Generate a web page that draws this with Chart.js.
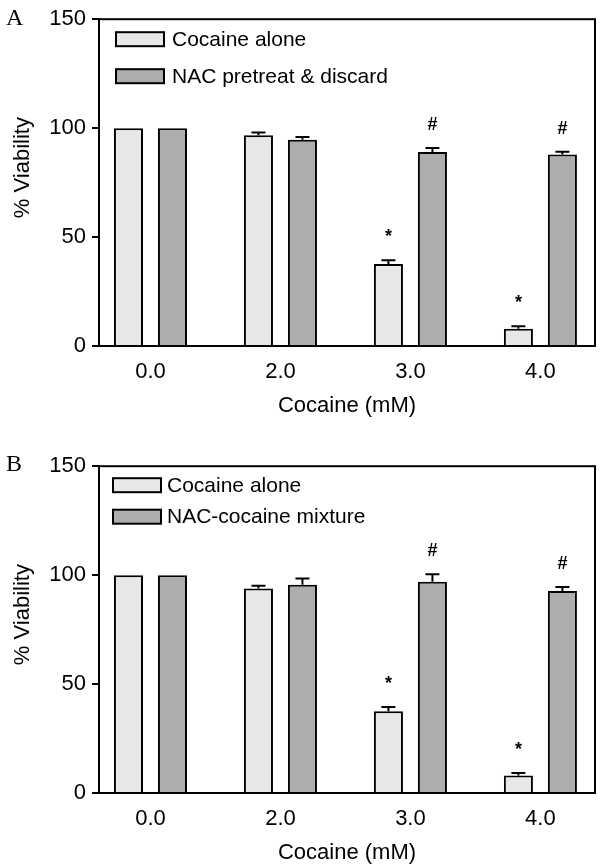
<!DOCTYPE html>
<html>
<head>
<meta charset="utf-8">
<title>Cocaine viability</title>
<script src="https://cdn.jsdelivr.net/npm/chart.js@4.4.1/dist/chart.umd.min.js"></script>
<style>
  html, body { margin: 0; padding: 0; background: #fff; overflow: hidden; }
  #wrap { position: relative; width: 602px; height: 868px; }
  canvas { position: absolute; left: 0; }
  .panel { position: absolute; left: 6px; font-family: "Liberation Serif", "Times New Roman", serif; font-size: 24px; line-height: 24px; color: #000; }
</style>
</head>
<body>
<div id="wrap">
  <canvas id="chartA" width="602" height="434" style="top:0"></canvas>
  <canvas id="chartB" width="602" height="421" style="top:447px"></canvas>
  <div class="panel" style="top:5px">A</div>
  <div class="panel" style="top:451px">B</div>
</div>
<script>
// 1. Data
const doses = ['0.0', '2.0', '3.0', '4.0'];

// panel A
const aloneA = [100, 96.7, 37.6, 7.9];
const aloneErrA = [0, 1.3, 1.8, 1.2];
const pretreatA = [100, 94.7, 89.1, 87.9];
const pretreatErrA = [0, 1.2, 1.8, 1.3];

// panel B
const aloneB = [100, 93.9, 37.5, 8.0];
const aloneErrB = [0, 1.2, 2.0, 1.2];
const mixtureB = [100, 95.6, 97.0, 92.7];
const mixtureErrB = [0, 2.9, 3.4, 1.8];

// significance marks
const aloneMarks = ['', '', '*', '*'];
const nacMarks = ['', '', '#', '#'];

const LIGHT = '#e7e7e7';
const DARK = '#adadad';
const FONT = '"Liberation Sans", Arial, sans-serif';

// 2. Plugin: frame, error bars, marks, legend and y title
const extras = {
    id: 'extras',
    afterDatasetsDraw(chart, args, opts) {
        const ctx = chart.ctx;
        const { left, top, right, bottom } = chart.chartArea;
        const yScale = chart.scales.y;
        ctx.save();
        ctx.strokeStyle = '#000';
        ctx.lineWidth = 2;

        chart.data.datasets.forEach((ds, di) => {
            const meta = chart.getDatasetMeta(di);
            meta.data.forEach((bar, i) => {
                const err = ds.errors[i];
                const yCap = yScale.getPixelForValue(ds.data[i].y + err);
                if (err > 0) {
                    ctx.beginPath();
                    ctx.moveTo(bar.x, bar.y);
                    ctx.lineTo(bar.x, yCap);
                    ctx.moveTo(bar.x - 7, yCap);
                    ctx.lineTo(bar.x + 7, yCap);
                    ctx.stroke();
                }
                if (ds.marks[i]) {
                    ctx.fillStyle = '#000';
                    ctx.font = 'bold 18px ' + FONT;
                    ctx.textAlign = 'center';
                    ctx.textBaseline = 'middle';
                    ctx.fillText(ds.marks[i], bar.x, yCap - 23);
                }
            });
        });

        // box round the plot
        ctx.strokeRect(left, top, right - left, bottom - top);

        // legend inside the plot
        const lg = opts.legend;
        chart.data.datasets.forEach((ds, di) => {
            const cy = top + lg.rows[di];
            const bx = left + lg.x;
            ctx.fillStyle = ds.backgroundColor;
            ctx.fillRect(bx, cy - 7, 48, 14);
            ctx.strokeRect(bx, cy - 7, 48, 14);
            ctx.fillStyle = '#000';
            ctx.font = '21px ' + FONT;
            ctx.textAlign = 'left';
            ctx.textBaseline = 'middle';
            ctx.fillText(ds.label, bx + 48 + lg.gap, cy + 1);
        });

        // y title, a little above the middle as in the figure
        ctx.translate(23, (top + bottom) / 2 - 15);
        ctx.rotate(-Math.PI / 2);
        ctx.font = '22px ' + FONT;
        ctx.textAlign = 'center';
        ctx.textBaseline = 'middle';
        ctx.fillText('% Viability', 0, 0);
        ctx.restore();
    }
};

function makePanel(id, series, axisHeight, titlePad, legend) {
    const ctx = document.getElementById(id).getContext('2d');
    return new Chart(ctx, {
        type: 'bar',
        data: {
            datasets: series.map(s => ({
                label: s.label,
                data: s.values.map((v, i) => ({ x: i, y: v })),
                errors: s.errors,
                marks: s.marks,
                backgroundColor: s.color,
                borderColor: '#000',
                borderWidth: 2,
                categoryPercentage: 0.677,
                barPercentage: 0.66
            }))
        },
        options: {
            responsive: false,
            animation: false,
            layout: { padding: { top: 16, right: 7, left: 0, bottom: 0 } },
            plugins: {
                legend: { display: false },
                tooltip: { enabled: false },
                extras: { legend }
            },
            scales: {
                x: {
                    type: 'linear',
                    offset: false,
                    min: -0.396,
                    max: 3.42,
                    grid: { display: false, drawTicks: false },
                    border: { display: true, color: '#000', width: 2 },
                    ticks: {
                        stepSize: 1,
                        includeBounds: false,
                        autoSkip: false,
                        maxRotation: 0,
                        padding: 13,
                        color: '#000',
                        font: { family: FONT, size: 22 },
                        callback: v => doses[v] ?? ''
                    },
                    title: {
                        display: true,
                        text: 'Cocaine (mM)',
                        color: '#000',
                        font: { family: FONT, size: 22 },
                        padding: { top: 0, bottom: titlePad }
                    },
                    afterFit: scale => { scale.height = axisHeight; }
                },
                y: {
                    min: 0,
                    max: 150,
                    grid: { drawOnChartArea: false, drawTicks: true, tickLength: 7, color: '#000', lineWidth: 2 },
                    border: { display: true, color: '#000', width: 2 },
                    ticks: {
                        stepSize: 50,
                        padding: 6,
                        color: '#000',
                        font: { family: FONT, size: 22 }
                    },
                    afterFit: scale => { scale.width = 99; }
                }
            }
        },
        plugins: [extras]
    });
}

// 3. Two panels
makePanel('chartA', [
    { label: 'Cocaine alone', values: aloneA, errors: aloneErrA, marks: aloneMarks, color: LIGHT },
    { label: 'NAC pretreat & discard', values: pretreatA, errors: pretreatErrA, marks: nacMarks, color: DARK }
], 88, 15, { x: 17, rows: [20, 57], gap: 8 });

makePanel('chartB', [
    { label: 'Cocaine alone', values: aloneB, errors: aloneErrB, marks: aloneMarks, color: LIGHT },
    { label: 'NAC-cocaine mixture', values: mixtureB, errors: mixtureErrB, marks: nacMarks, color: DARK }
], 75, 2, { x: 14, rows: [19, 50.5], gap: 6 });
</script>
</body>
</html>
